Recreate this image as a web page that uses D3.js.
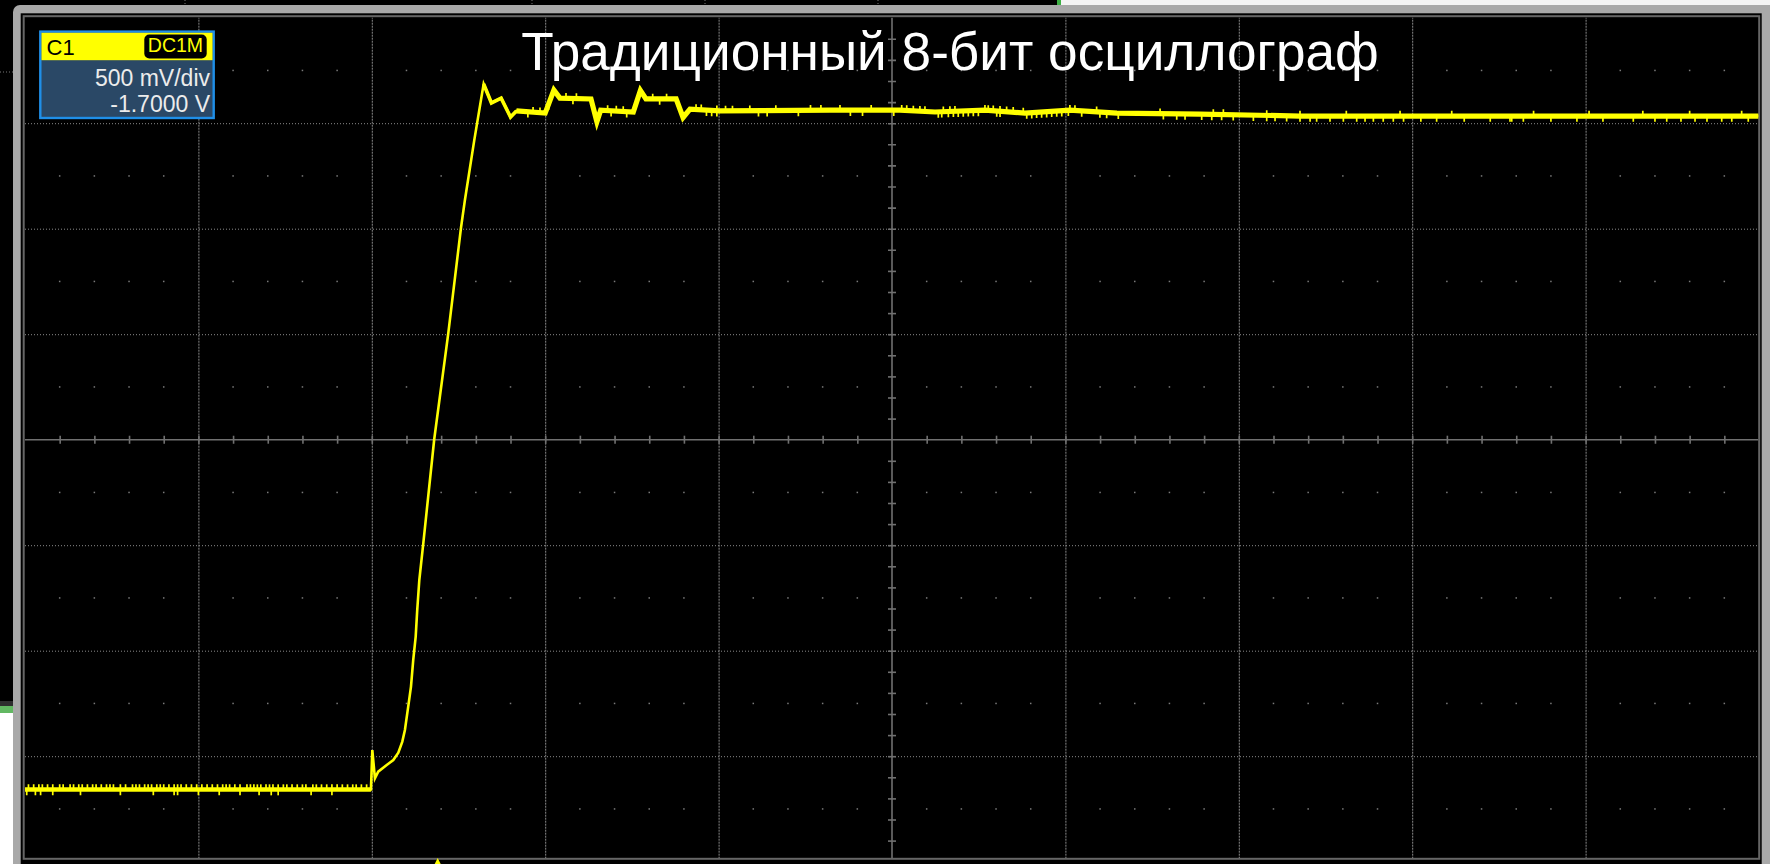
<!DOCTYPE html>
<html><head><meta charset="utf-8">
<script src="https://cdn.jsdelivr.net/npm/d3@7"></script>
<style>html,body{margin:0;padding:0;background:#000;overflow:hidden}svg{display:block}</style>
</head><body><svg id="c" width="1770" height="864"></svg>
<script>
// ---------------- data ----------------
const titleText = "Традиционный 8-бит осциллограф";
const channelName = "C1";
const couplingLabel = "DC1M";
const scaleLabel = "500 mV/div";
const offsetLabel = "-1.7000 V";
const voltsPerDiv = 0.5;
const offsetVolts = -1.7;
const hDivs = 10;
const vDivs = 8;
const minorPerDiv = 5;
const triggerTime = 2.38;          // in divisions

// trace key points: time (divisions from left edge) and volts
const traceTime = [0, 1.995, 2.003, 2.018, 2.037, 2.086, 2.124, 2.153, 2.176, 2.191, 2.210, 2.226, 2.239, 2.253, 2.262, 2.274, 2.297, 2.360, 2.441, 2.514, 2.537, 2.591, 2.645, 2.690, 2.746, 2.800, 2.834, 3.000, 3.050, 3.085, 3.264, 3.298, 3.320, 3.508, 3.549, 3.581, 3.755, 3.795, 3.835, 4.008, 4.642, 5.046, 5.248, 5.536, 5.767, 6.026, 6.297, 6.776, 7.353, 10.0];
const traceVolts = [0.042, 0.042, 0.229, 0.095, 0.127, 0.158, 0.182, 0.217, 0.269, 0.324, 0.435, 0.530, 0.656, 0.766, 0.893, 1.035, 1.209, 1.702, 2.204, 2.702, 2.836, 3.120, 3.386, 3.296, 3.319, 3.229, 3.258, 3.248, 3.357, 3.319, 3.315, 3.207, 3.262, 3.253, 3.355, 3.315, 3.315, 3.227, 3.267, 3.258, 3.262, 3.262, 3.253, 3.262, 3.248, 3.262, 3.248, 3.243, 3.234, 3.234];

// quantisation glitches (one-LSB spikes), in divisions
const spikeUpTime = [0.02,0.05,0.08,0.10,0.13,0.16,0.20,0.22,0.26,0.28,0.31,0.33,0.36,0.39,0.41,0.44,0.47,0.49,0.51,0.55,0.58,0.62,0.64,0.66,0.69,0.71,0.73,0.76,0.78,0.80,0.83,0.86,0.88,0.90,0.93,0.96,0.99,1.02,1.05,1.08,1.11,1.14,1.16,1.18,1.21,1.24,1.28,1.30,1.32,1.34,1.36,1.39,1.41,1.43,1.46,1.49,1.51,1.54,1.57,1.60,1.62,1.66,1.68,1.71,1.74,1.77,1.80,1.83,1.86,1.89,1.91,1.94,1.97,
  2.93,2.97,3.12,3.18,3.36,3.41,3.45,3.62,3.70,3.87,3.90,3.99,4.04,4.08,4.18,4.33,4.53,4.59,4.70,4.88,5.056,5.085,5.123,5.161,5.19,5.296,5.334,5.363,5.536,5.555,5.584,5.623,5.661,5.699,5.757,6.026,6.055,6.18,6.546,6.853,6.911,7.161,7.353,7.62,7.93,8.228,8.70,9.02,9.33,9.60,9.90];
const spikeDownTime = [0.01,0.06,0.09,0.16,0.32,0.55,0.74,0.86,0.88,1.00,1.12,1.24,1.35,1.42,1.46,1.65,1.77,
  2.90,3.02,3.16,3.38,3.47,3.66,3.93,3.96,3.99,4.23,4.28,4.46,4.76,4.83,5.01,5.267,5.287,5.325,5.354,5.382,5.411,5.44,5.469,5.498,5.604,5.623,5.777,5.806,5.834,5.863,5.892,5.921,5.95,5.979,6.017,6.094,6.199,6.238,6.305,6.565,6.642,6.69,6.786,6.844,6.901,6.968,7.084,7.161,7.209,7.276,7.353,7.411,7.449,7.526,7.603,7.68,7.728,7.776,7.833,7.891,7.95,8.05,8.141,8.30,8.45,8.564,8.574,8.641,8.80,8.95,9.10,9.275,9.40,9.468,9.55,9.631,9.70,9.785,9.843,9.938];

// ---------------- layout ----------------
const svg = d3.select("#c");
const W = 1770, H = 864;
const plotL = 25, plotR = 1759;
const centerY = 439.7, divH = 105.5;
const clipTop = 17.3, clipBottom = 858;
const centerV = -offsetVolts;

const x = d3.scaleLinear().domain([0, hDivs]).range([plotL, plotR]);
const y = d3.scaleLinear()
  .domain([centerV - vDivs / 2 * voltsPerDiv, centerV + vDivs / 2 * voltsPerDiv])
  .range([centerY + vDivs / 2 * divH, centerY - vDivs / 2 * divH]);

// ---------- background / frame (screen-capture surroundings) ----------
svg.append("rect").attr("x",0).attr("y",0).attr("width",W).attr("height",H).attr("fill","#000");
// stray desktop bits around the window
svg.append("rect").attr("x",1061).attr("y",0).attr("width",W-1061).attr("height",8).attr("fill","#f4f4f4");
svg.append("rect").attr("x",1057).attr("y",0).attr("width",4).attr("height",6).attr("fill","#3cb043");
svg.append("rect").attr("x",0).attr("y",701).attr("width",13).attr("height",5).attr("fill","#2e2e2e");
svg.append("rect").attr("x",0).attr("y",706).attr("width",13).attr("height",7).attr("fill","#62b862");
svg.append("rect").attr("x",0).attr("y",713).attr("width",13).attr("height",H-713).attr("fill","#ffffff");
[185, 532, 705, 878].forEach(px => svg.append("line").attr("x1",px).attr("x2",px).attr("y1",0).attr("y2",5)
  .attr("stroke","#777").attr("stroke-dasharray","1,2"));
svg.append("line").attr("x1",0).attr("x2",13).attr("y1",72).attr("y2",72).attr("stroke","#777").attr("stroke-dasharray","1,2");
// outer grey window frame
svg.append("rect").attr("x",13).attr("y",5).attr("width",W-13+20).attr("height",H+20).attr("rx",7).attr("fill","#a9a9a9");
svg.append("rect").attr("x",20.7).attr("y",13.3).attr("width",1761.7-20.7).attr("height",H).attr("fill","#000");
svg.append("rect").attr("x",23.7).attr("y",16.2).attr("width",1759.2-23.7).attr("height",858.8-16.2)
  .attr("fill","#000").attr("stroke","#666").attr("stroke-width",2);

// clip for plot contents
svg.append("clipPath").attr("id","pc").append("rect")
  .attr("x",24.7).attr("y",clipTop).attr("width",1758.3-24.7).attr("height",clipBottom-clipTop);
const plot = svg.append("g").attr("clip-path","url(#pc)");

// ---------- grid ----------
const majorT = d3.range(1, hDivs).filter(d => d !== hDivs/2);
const majorV = d3.range(-vDivs/2 + 1, vDivs/2).filter(k => k !== 0).map(k => centerV + k * voltsPerDiv);

const gx = plot.append("g").attr("transform",`translate(0,${y.range()[0]})`)
  .call(d3.axisBottom(x).tickValues(majorT).tickSize(-(y.range()[0]-y.range()[1])).tickFormat(""));
gx.select(".domain").remove();
gx.selectAll("line").attr("stroke","#8a8a8a").attr("stroke-width",1).attr("stroke-dasharray","2,1");

const gy = plot.append("g").attr("transform",`translate(${plotL},0)`)
  .call(d3.axisLeft(y).tickValues(majorV).tickSize(-(plotR-plotL)).tickFormat(""));
gy.select(".domain").remove();
gy.selectAll("line").attr("stroke","#8a8a8a").attr("stroke-width",1).attr("stroke-dasharray","1,2");

// dot rows at half divisions
const halfV = d3.range(-vDivs/2, vDivs/2).map(k => centerV + (k + 0.5) * voltsPerDiv);
const minorT = d3.range(1, hDivs * minorPerDiv).map(i => i / minorPerDiv).filter(t => Math.abs(t - Math.round(t)) > 1e-6);
const dots = [];
halfV.forEach(v => minorT.forEach(t => dots.push([t, v])));
plot.append("g").selectAll("rect").data(dots).join("rect")
  .attr("x", d => x(d[0]) - 0.75).attr("y", d => y(d[1]) - 0.75)
  .attr("width",1.5).attr("height",1.5).attr("fill","#7a7a7a");

// ---------- centre cross-hair axes with minor ticks ----------
const minorAll = d3.range(1, hDivs * minorPerDiv).map(i => i / minorPerDiv).filter(t => Math.abs(t - hDivs/2) > 1e-6);
const ax = plot.append("g").attr("transform",`translate(0,${y(centerV) - 4})`)
  .call(d3.axisBottom(x).tickValues(minorAll).tickSize(8).tickFormat(""));
ax.select(".domain").remove();
ax.selectAll("line").attr("stroke","#707070").attr("stroke-width",1.6);
plot.append("line").attr("x1",plotL).attr("x2",plotR).attr("y1",y(centerV)).attr("y2",y(centerV))
  .attr("stroke","#707070").attr("stroke-width",1.6);

const minorVolts = d3.range(1, vDivs * minorPerDiv).map(i => y.domain()[0] + i * voltsPerDiv / minorPerDiv)
  .filter(v => Math.abs(v - centerV) > 1e-6);
const ay = plot.append("g").attr("transform",`translate(${x(hDivs/2) - 4},0)`)
  .call(d3.axisRight(y).tickValues(minorVolts).tickSize(8).tickFormat(""));
ay.select(".domain").remove();
ay.selectAll("line").attr("stroke","#707070").attr("stroke-width",1.6);
plot.append("line").attr("x1",x(hDivs/2)).attr("x2",x(hDivs/2)).attr("y1",y.range()[1]).attr("y2",y.range()[0])
  .attr("stroke","#707070").attr("stroke-width",1.6);

// ---------- trace ----------
const pts = traceTime.map((t, i) => [t, traceVolts[i]]);
const line = d3.line().x(d => x(d[0])).y(d => y(d[1]));
const yellow = "#ffff00";
plot.append("path").attr("d", line(pts)).attr("fill","none").attr("stroke",yellow)
  .attr("stroke-width",2.6).attr("stroke-linejoin","miter");
// thicker quantisation band on the flat parts
const basePts = pts.filter(d => d[0] <= 1.995);
const topPts = pts.filter(d => d[0] >= 2.834);
const ringPts = pts.filter(d => d[0] >= 2.645 && d[0] <= 2.834);
[[basePts,4.6],[topPts,5.2],[ringPts,3.6]].forEach(([p,w]) =>
  plot.append("path").attr("d", line(p)).attr("fill","none").attr("stroke",yellow).attr("stroke-width",w));

// glitches
const interp = t => {
  const i = d3.bisectRight(traceTime, t);
  if (i <= 0) return traceVolts[0];
  if (i >= traceTime.length) return traceVolts[traceVolts.length-1];
  const t0 = traceTime[i-1], t1 = traceTime[i];
  return traceVolts[i-1] + (traceVolts[i]-traceVolts[i-1]) * (t - t0) / (t1 - t0);
};
plot.append("g").selectAll("line").data(spikeUpTime).join("line")
  .attr("x1", d => x(d)).attr("x2", d => x(d))
  .attr("y1", d => y(interp(d)) - 1).attr("y2", d => y(interp(d)) - 5.2)
  .attr("stroke", yellow).attr("stroke-width",1.7);
plot.append("g").selectAll("line").data(spikeDownTime).join("line")
  .attr("x1", d => x(d)).attr("x2", d => x(d))
  .attr("y1", d => y(interp(d)) + 1).attr("y2", d => y(interp(d)) + 5.8)
  .attr("stroke", yellow).attr("stroke-width",1.7);

// trigger position marker (bottom edge)
const tx = x(triggerTime);
svg.append("path").attr("d", `M${tx},858 L${tx-3},864 L${tx+3},864 Z`).attr("fill", yellow);

// ---------- channel descriptor box ----------
const box = svg.append("g");
box.append("rect").attr("x",40.3).attr("y",31.6).attr("width",173.4).attr("height",86.4)
  .attr("fill","#2a4866").attr("stroke","#1f8fe8").attr("stroke-width",2.4);
box.append("rect").attr("x",41.5).attr("y",32.8).attr("width",171).attr("height",27.4).attr("fill",yellow);
box.append("rect").attr("x",144.3).attr("y",34.6).attr("width",62.4).attr("height",23.8).attr("rx",5).attr("fill","#000");
const ff = "'Liberation Sans', Arial, sans-serif";
box.append("text").attr("x",46.5).attr("y",55.4).attr("font-family",ff).attr("font-size",22).attr("fill","#000").text(channelName);
box.append("text").attr("x",175.5).attr("y",52.3).attr("text-anchor","middle").attr("font-family",ff)
  .attr("font-size",19.5).attr("fill",yellow).text(couplingLabel);
box.append("text").attr("x",210).attr("y",86.2).attr("text-anchor","end").attr("font-family",ff)
  .attr("font-size",23).attr("fill","#ececec").text(scaleLabel);
box.append("text").attr("x",210).attr("y",111.6).attr("text-anchor","end").attr("font-family",ff)
  .attr("font-size",23).attr("fill","#ececec").text(offsetLabel);

// ---------- title ----------
const title = svg.append("text").attr("x",950).attr("y",69.5).attr("text-anchor","middle")
  .attr("font-family",ff).attr("font-size",60).attr("fill","#ffffff").text(titleText);
const tw = title.node().getComputedTextLength();
title.attr("font-size", 60 * 858 / tw);
</script>
</body></html>
